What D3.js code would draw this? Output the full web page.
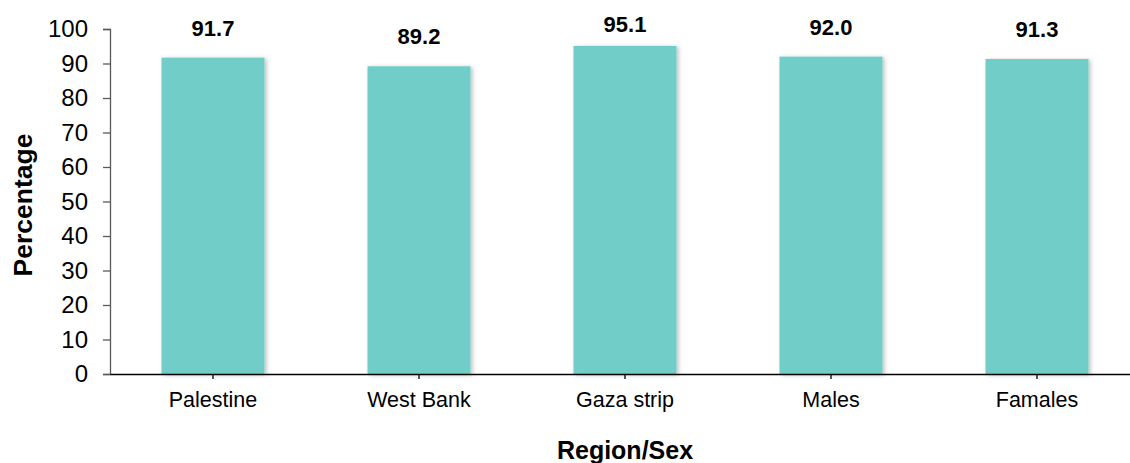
<!DOCTYPE html>
<html><head><meta charset="utf-8">
<script src="https://cdn.jsdelivr.net/npm/d3@7"></script>
<style>body{margin:0;background:#fff}svg{display:block;font-family:"Liberation Sans",Arial,sans-serif}</style>
</head><body><svg id="c" width="1130" height="463"></svg>
<script>
const categories = ["Palestine","West Bank","Gaza strip","Males","Famales"];
const values = [91.7, 89.2, 95.1, 92.0, 91.3];
const yTicks = [0,10,20,30,40,50,60,70,80,90,100];
const labels = ["91.7","89.2","95.1","92.0","91.3"];

const svg = d3.select("#c");
const defs = svg.append("defs");
const f = defs.append("filter").attr("id","sh").attr("x","-10%").attr("y","-10%").attr("width","130%").attr("height","120%");
f.append("feDropShadow").attr("dx",2).attr("dy",1).attr("stdDeviation",2).attr("flood-color","#000").attr("flood-opacity",0.25);

const x = d3.scaleBand().domain(categories).range([110,1140]).paddingInner(0.5).paddingOuter(0.25);
const y = d3.scaleLinear().domain([0,100]).range([374,29]);

svg.append("g").selectAll("rect").data(values).join("rect")
  .attr("x",(d,i)=>x(categories[i])).attr("width",x.bandwidth())
  .attr("y",d=>y(d)).attr("height",d=>y(0)-y(d))
  .attr("fill","#6fcdc7").attr("filter","url(#sh)");

const ya = svg.append("g").attr("transform","translate(110,0)")
  .call(d3.axisLeft(y).tickValues(yTicks).tickSize(7).tickPadding(15));
ya.select(".domain").attr("stroke","#595959").attr("stroke-width",1.3);
ya.selectAll(".tick line").attr("stroke","#595959").attr("stroke-width",1.3);
ya.selectAll("text").attr("font-size",24).attr("fill","#000").attr("font-family","Liberation Sans, Arial, sans-serif");

const xa = svg.append("g").attr("transform","translate(0,374)")
  .call(d3.axisBottom(x).tickSize(5).tickPadding(13).tickSizeOuter(0));
xa.select(".domain").attr("stroke","#000").attr("stroke-width",1.5);
xa.selectAll(".tick line").attr("stroke","#000").attr("stroke-width",1.3);
xa.selectAll("text").attr("font-size",21.5).attr("fill","#000").attr("font-family","Liberation Sans, Arial, sans-serif");

svg.append("g").selectAll("text").data(values).join("text")
  .attr("x",(d,i)=>x(categories[i])+x.bandwidth()/2)
  .attr("y",d=>Math.max(y(d)-22,32))
  .attr("text-anchor","middle").attr("font-weight","bold").attr("font-size",22)
  .text((d,i)=>labels[i]);

svg.append("text").attr("transform","translate(32,205) rotate(-90)")
  .attr("text-anchor","middle").attr("font-weight","bold").attr("font-size",26.5).text("Percentage");
svg.append("text").attr("x",625).attr("y",459)
  .attr("text-anchor","middle").attr("font-weight","bold").attr("font-size",25).text("Region/Sex");
</script></body></html>
